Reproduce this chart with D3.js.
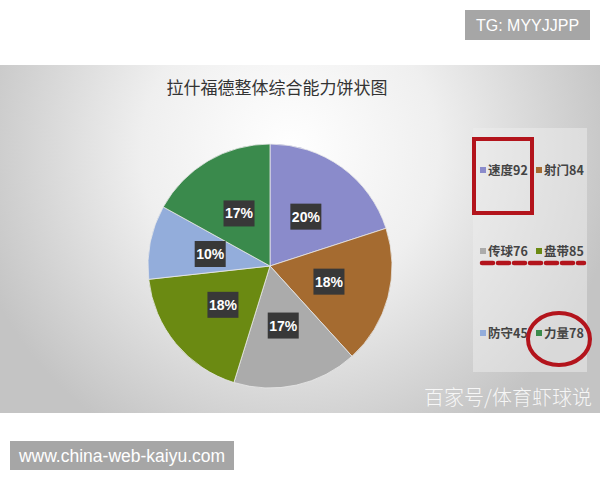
<!DOCTYPE html>
<html><head><meta charset="utf-8">
<script src="https://cdn.jsdelivr.net/npm/d3@7"></script>
<style>html,body{margin:0;padding:0;background:#fff;}svg{display:block;}</style>
</head><body>
<svg id="c" width="600" height="480"></svg>
<script>
const categories = ["速度", "射门", "传球", "盘带", "防守", "力量"];
const values = [92, 84, 76, 85, 45, 78];
const colors = ["#8a8bcb", "#a56b30", "#ababab", "#6b8a12", "#93addb", "#3a8a4c"];
const titleText = "拉什福德整体综合能力饼状图";

const svg = d3.select("#c");
const font = "'Noto Sans CJK SC','Noto Sans',sans-serif";

// background gradient panel
const defs = svg.append("defs");
const g = defs.append("radialGradient").attr("id","bg").attr("gradientUnits","userSpaceOnUse")
  .attr("cx",290).attr("cy",150).attr("r",330);
g.append("stop").attr("offset","0").attr("stop-color","#ffffff");
g.append("stop").attr("offset","0.45").attr("stop-color","#efefef");
g.append("stop").attr("offset","1").attr("stop-color","#c4c4c4");
svg.append("rect").attr("x",0).attr("y",65).attr("width",600).attr("height",348).attr("fill","url(#bg)");

// legend panel
svg.append("rect").attr("x",473).attr("y",128).attr("width",114).attr("height",244)
  .attr("fill","#ededed").attr("opacity",0.5);

// title
svg.append("text").attr("x",277).attr("y",94).attr("text-anchor","middle")
  .attr("font-family",font).attr("font-size",17).attr("fill","#333").text(titleText);

// pie
const cx = 270, cy = 266, R = 122;
const pie = d3.pie().sort(null).value(d => d)(values);
const arc = d3.arc().innerRadius(0).outerRadius(R);
const labelArc = d3.arc().innerRadius(122).outerRadius(0);
const total = d3.sum(values);
const pg = svg.append("g").attr("transform",`translate(${cx},${cy})`);
pg.selectAll("path").data(pie).join("path").attr("d",arc)
  .attr("fill",(d,i)=>colors[i]).attr("stroke","#e8e8e8").attr("stroke-width",0.8);
const lbl = pg.selectAll("g.l").data(pie).join("g").attr("class","l")
  .attr("transform",d=>{const c = labelArc.centroid(d); return `translate(${c[0]},${c[1]})`;});
lbl.append("rect").attr("x",-15.5).attr("y",-13).attr("width",31).attr("height",26).attr("fill","#383838");
lbl.append("text").attr("text-anchor","middle").attr("dy","0.36em")
  .attr("font-family","'Liberation Sans',Arial,sans-serif").attr("font-weight","bold").attr("font-size",14)
  .attr("fill","#fff").text(d=>Math.round(d.data/total*100)+"%");

// legend
const colX = [483, 539], rowY = [170, 251, 333];
const lg = svg.append("g");
categories.forEach((c,i)=>{
  const x = colX[i%2], y = rowY[Math.floor(i/2)];
  lg.append("rect").attr("x",x-3).attr("y",y-3).attr("width",6).attr("height",6).attr("fill",colors[i]);
  lg.append("text").attr("x",x+5).attr("y",y).attr("dy","0.36em").attr("font-family",font)
    .attr("font-size",12.5).attr("font-weight","bold").attr("fill","#444").text(c+values[i]);
});

// red annotations
const red = "#b3141c";
svg.append("rect").attr("x",474).attr("y",139).attr("width",58).attr("height",74)
  .attr("fill","none").attr("stroke",red).attr("stroke-width",4);
svg.append("line").attr("x1",482).attr("x2",584).attr("y1",263).attr("y2",263)
  .attr("stroke",red).attr("stroke-width",4.5).attr("stroke-dasharray","11,5").attr("stroke-linecap","round");
svg.append("ellipse").attr("cx",559).attr("cy",339).attr("rx",31).attr("ry",26)
  .attr("fill","none").attr("stroke",red).attr("stroke-width",4);

// watermark
svg.append("text").attr("x",592).attr("y",405).attr("text-anchor","end").attr("font-family",font)
  .attr("font-size",20).attr("font-weight",300).attr("fill","#fff").attr("opacity",0.85).text("百家号/体育虾球说");

// TG box
svg.append("rect").attr("x",465).attr("y",10).attr("width",125).attr("height",30).attr("fill","#a6a6a6");
svg.append("text").attr("x",527.5).attr("y",25).attr("dy","0.36em").attr("text-anchor","middle")
  .attr("font-family","'Liberation Sans',Arial,sans-serif").attr("font-size",16).attr("fill","#fff").text("TG: MYYJJPP");

// bottom url box
svg.append("rect").attr("x",10).attr("y",441).attr("width",224).attr("height",29).attr("fill","#a6a6a6");
svg.append("text").attr("x",122).attr("y",455.5).attr("dy","0.36em").attr("text-anchor","middle")
  .attr("font-family","'Liberation Sans',Arial,sans-serif").attr("font-size",17.5).attr("fill","#fff").text("www.china-web-kaiyu.com");
</script>
</body></html>
